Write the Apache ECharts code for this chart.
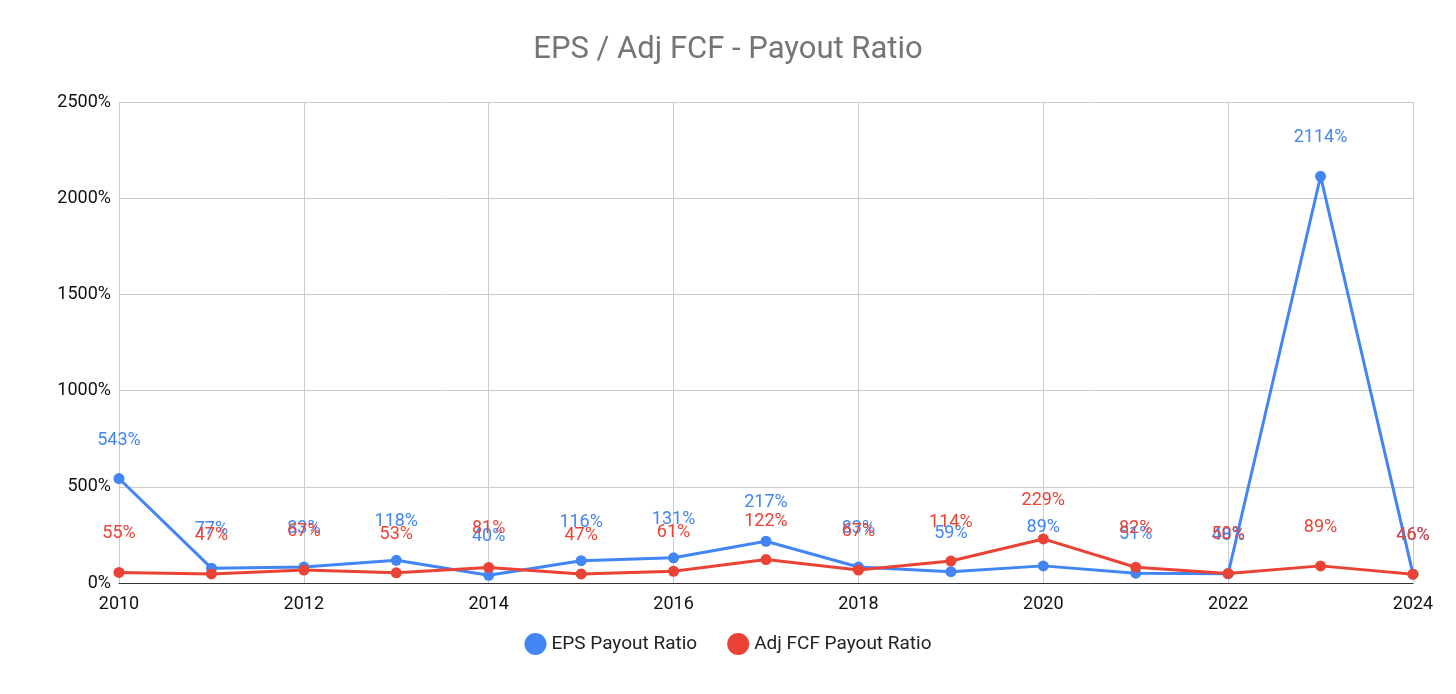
<!DOCTYPE html>
<html>
<head>
<meta charset="UTF-8" />
<title>EPS / Adj FCF - Payout Ratio</title>
<script src="https://cdn.jsdelivr.net/npm/echarts@6/dist/echarts.min.js"></script>
<style>html,body{margin:0;background:#fff;}</style>
</head>
<body>
<div id="chart" style="width: 1456px; height: 694px;"></div>
<script>
var years = [2010, 2011, 2012, 2013, 2014, 2015, 2016, 2017, 2018, 2019, 2020, 2021, 2022, 2023, 2024];
var epsPayout = [543, 77, 83, 118, 40, 116, 131, 217, 83, 59, 89, 51, 48, 2114, 46];
var fcfPayout = [55, 47, 67, 53, 81, 47, 61, 122, 67, 114, 229, 82, 50, 89, 46];

function pairs(vals) {
  return years.map(function (y, i) { return [y, vals[i]]; });
}

var myChart = echarts.init(document.getElementById("chart"));

var labelCfg = function (color) {
  return {
    show: true, position: "top", distance: 24, color: color,
    fontSize: 18, fontFamily: "Roboto",
    formatter: function (p) { return p.value[1] + "%"; }
  };
};

myChart.setOption({
  title: {
    text: "EPS / Adj FCF - Payout Ratio", left: "center", top: 30,
    textStyle: { color: "#757575", fontSize: 31, fontWeight: "normal", fontFamily: "Roboto" }
  },
  legend: {
    bottom: 34, itemGap: 30, icon: "circle", itemWidth: 22, itemHeight: 22,
    textStyle: { fontSize: 19, color: "#222", fontFamily: "Roboto" },
    data: ["EPS Payout Ratio", "Adj FCF Payout Ratio"]
  },
  grid: { left: 119, right: 43, top: 102, bottom: 111 },
  xAxis: {
    type: "value", min: 2010, max: 2024, interval: 2,
    axisLine: { lineStyle: { color: "#333" } },
    axisTick: { show: false },
    axisLabel: { color: "#111", fontSize: 18, fontFamily: "Roboto", margin: 12,
      formatter: function (v) { return String(v); } },
    splitLine: { lineStyle: { color: "#ccc" } }
  },
  yAxis: {
    type: "value", min: 0, max: 2500, interval: 500,
    axisLine: { show: false }, axisTick: { show: false },
    axisLabel: { color: "#111", fontSize: 18, fontFamily: "Roboto",
      formatter: function (v) { return v + "%"; } },
    splitLine: { lineStyle: { color: "#ccc" } }
  },
  series: [
    {
      name: "EPS Payout Ratio", type: "line", data: pairs(epsPayout),
      color: "#4285f4", symbol: "circle", symbolSize: 11,
      lineStyle: { width: 3 }, label: labelCfg("#4285f4")
    },
    {
      name: "Adj FCF Payout Ratio", type: "line", data: pairs(fcfPayout),
      color: "#ea4335", symbol: "circle", symbolSize: 11,
      lineStyle: { width: 3 }, label: labelCfg("#ea4335")
    }
  ]
});
</script>
</body>
</html>
